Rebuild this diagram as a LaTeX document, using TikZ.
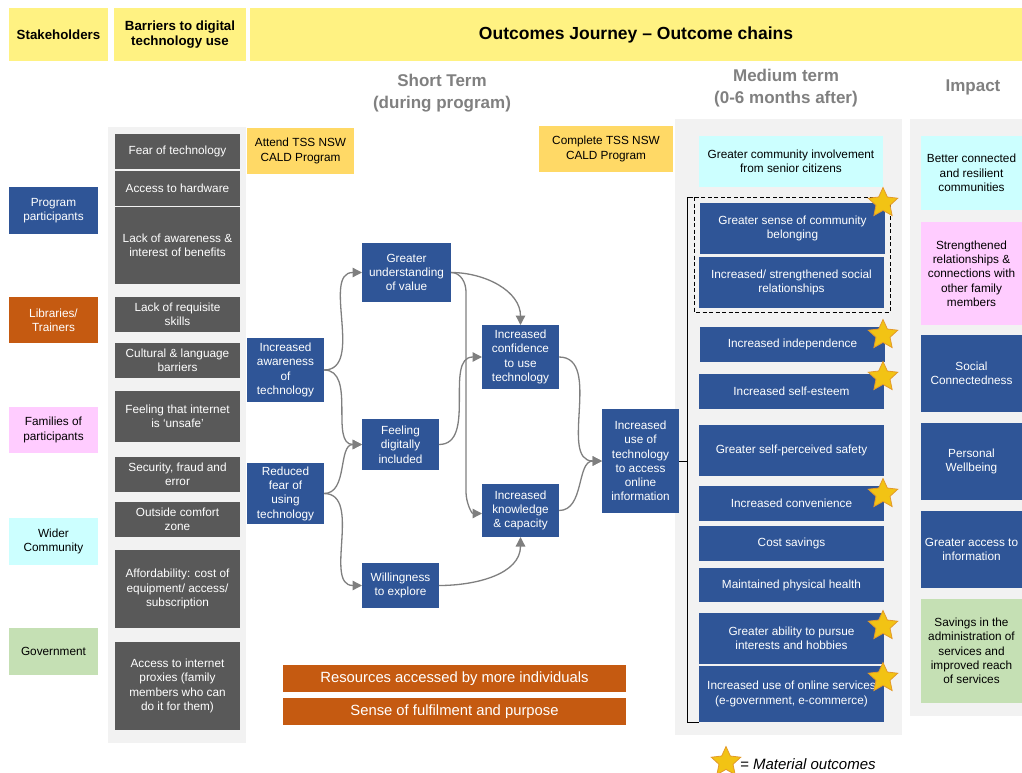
\documentclass[tikz,border=0pt]{standalone}
\usepackage{fontspec}
\setmainfont{Liberation Sans}
\usetikzlibrary{arrows.meta,shapes.geometric}
\definecolor{hdr}{HTML}{FFF282}
\definecolor{prog}{HTML}{FFD966}
\definecolor{cblue}{HTML}{2F5597}
\definecolor{dgray}{HTML}{595959}
\definecolor{corange}{HTML}{C55A11}
\definecolor{cpink}{HTML}{FFCCFF}
\definecolor{ccyan}{HTML}{CCFFFF}
\definecolor{cgreen}{HTML}{C5E0B4}
\definecolor{panel}{HTML}{F2F2F2}
\definecolor{gtext}{HTML}{808080}
\definecolor{arr}{HTML}{7F7F7F}
\definecolor{starfill}{HTML}{F2C314}
\definecolor{stardraw}{HTML}{E39A2A}
\newcommand\mybox[7]{\node[#6, minimum width={(#4)-(#2)}, minimum height={(#5)-(#3)}] (#1) at ({((#2)+(#4))/2},{((#3)+(#5))/2}) {#7};}
\begin{document}
\begin{tikzpicture}[x=1pt,y=-1pt,
  bx/.style={inner sep=0pt, outer sep=0pt, align=center, font=\fontsize{11.8}{14.3}\selectfont},
  bluebox/.style={bx, fill=cblue, text=white},
  graybox/.style={bx, fill=dgray, text=white},
  orbox/.style={bx, fill=corange, text=white},
  pinkbox/.style={bx, fill=cpink, text=black},
  cyanbox/.style={bx, fill=ccyan, text=black},
  greenbox/.style={bx, fill=cgreen, text=black},
  progbox/.style={bx, fill=prog, text=black},
  hdrbox/.style={bx, fill=hdr, text=black, font=\bfseries\fontsize{13.3}{15.5}\selectfont},
  panelbox/.style={inner sep=0pt, outer sep=0pt, fill=panel},
  termtext/.style={align=center, text=gtext, font=\bfseries\fontsize{17}{21.5}\selectfont},
  flow/.style={draw=arr, line width=1.3pt, -{Triangle[length=9.5pt,width=9.5pt]}},
  matstar/.style={star, star points=5, star point ratio=2.1, minimum size=31pt, inner sep=0pt, fill=starfill, draw=stardraw, line width=0.8pt},
  brk/.style={draw=black, line width=0.9pt}
]
\useasboundingbox (0,0) rectangle (1022,773);

% headers
\mybox{hst}{9}{8}{108}{61}{hdrbox}{Stakeholders}
\mybox{hbar}{114}{8}{246}{61}{hdrbox}{Barriers to digital\\technology use}
\mybox{hout}{250}{8}{1022}{61}{hdrbox, font=\bfseries\fontsize{17.5}{20}\selectfont}{Outcomes Journey -- Outcome chains}

% term titles
\node[termtext] (tshort) at (442,93) {Short Term\\(during program)};
\node[termtext] (tmed) at (786,88) {Medium term\\(0-6 months after)};
\node[termtext] (timp) at (973,87) {Impact};

% panels
\mybox{pbar}{108}{127}{246}{743}{panelbox}{}
\mybox{pmed}{675}{119}{902}{735}{panelbox}{}
\mybox{pimp}{910}{119}{1022}{716}{panelbox}{}

% stakeholders
\mybox{pp}{9}{187}{98}{234}{bluebox}{Program\\participants}
\mybox{lib}{9}{297}{98}{343}{orbox}{Libraries/\\Trainers}
\mybox{fam}{9}{407}{98}{453}{pinkbox}{Families of\\participants}
\mybox{wc}{9}{518}{98}{565}{cyanbox}{Wider\\Community}
\mybox{gov}{9}{628}{98}{675}{greenbox}{Government}

% barriers
\mybox{b1}{115}{134}{240}{169}{graybox}{Fear of technology}
\mybox{b2}{115}{171}{240}{206}{graybox}{Access to hardware}
\mybox{b3}{115}{207}{240}{284}{graybox}{Lack of awareness \&\\interest of benefits}
\mybox{b4}{115}{297}{240}{332}{graybox}{Lack of requisite\\skills}
\mybox{b5}{115}{343}{240}{378}{graybox}{Cultural \& language\\barriers}
\mybox{b6}{115}{391}{240}{442}{graybox}{Feeling that internet\\is ‘unsafe’}
\mybox{b7}{115}{457}{240}{492}{graybox}{Security, fraud and\\error}
\mybox{b8}{115}{502}{240}{537}{graybox}{Outside comfort\\zone}
\mybox{b9}{115}{550}{240}{628}{graybox}{Affordability: cost of\\equipment/ access/\\subscription}
\mybox{b10}{115}{642}{240}{730}{graybox}{Access to internet\\proxies (family\\members who can\\do it for them)}

% program boxes
\mybox{att}{247}{128}{354}{174}{progbox}{Attend TSS NSW\\CALD Program}
\mybox{cmp}{539}{126}{673}{172}{progbox}{Complete TSS NSW\\CALD Program}

% short term chain
\mybox{aw}{247}{338}{324}{402}{bluebox}{Increased\\awareness\\of\\technology}
\mybox{rf}{247}{463}{324}{524}{bluebox}{Reduced\\fear of\\using\\technology}
\mybox{gu}{362}{243}{451}{302}{bluebox}{Greater\\understanding\\of value}
\mybox{fdi}{362}{419}{439}{470}{bluebox}{Feeling\\digitally\\included}
\mybox{wil}{362}{563}{439}{608}{bluebox}{Willingness\\to explore}
\mybox{conf}{482}{325}{559}{389}{bluebox}{Increased\\confidence\\to use\\technology}
\mybox{kn}{482}{484}{559}{537}{bluebox}{Increased\\knowledge\\\& capacity}
\mybox{use}{602}{409}{679}{513}{bluebox}{Increased\\use of\\technology\\to access\\online\\information}

% orange bars
\mybox{res}{283}{665}{626}{692}{orbox, font=\fontsize{14.8}{17}\selectfont}{Resources accessed by more individuals}
\mybox{ful}{283}{698}{626}{725}{orbox, font=\fontsize{14.8}{17}\selectfont}{Sense of fulfilment and purpose}

% arrows
\coordinate (gk1) at (466,292);
\coordinate (gk2) at (466,492);
\draw[flow] (aw.east) to[out=0,in=180] (gu.west);
\draw[flow] (aw.east) to[out=0,in=180] (fdi.west);
\draw[flow] (rf.east) to[out=0,in=180] (fdi.west);
\draw[flow] (rf.east) to[out=0,in=180] (wil.west);
\draw[flow] (gu.east) to[out=0,in=90] (conf.north);
\draw[flow] (gu.east) to[out=0,in=90] (gk1) -- (gk2) to[out=270,in=180] ([yshift=-3pt]kn.west);
\draw[flow] (fdi.east) to[out=0,in=180] (conf.west);
\draw[flow] (wil.east) to[out=0,in=270] (kn.south);
\draw[flow] (conf.east) to[out=0,in=180] (use.west);
\draw[flow] (kn.east) to[out=0,in=180] (use.west);

% medium term
\mybox{m0}{699}{136}{883}{187}{cyanbox}{Greater community involvement\\from senior citizens}
\mybox{m1}{700}{203}{885}{254}{bluebox}{Greater sense of community\\belonging}
\mybox{m2}{699}{257}{884}{308}{bluebox}{Increased/ strengthened social\\relationships}
\mybox{m3}{700}{327}{885}{362}{bluebox}{Increased independence}
\mybox{m4}{699}{374}{884}{409}{bluebox}{Increased self-esteem}
\mybox{m5}{699}{425}{884}{476}{bluebox}{Greater self-perceived safety}
\mybox{m6}{699}{486}{884}{521}{bluebox}{Increased convenience}
\mybox{m7}{699}{526}{884}{561}{bluebox}{Cost savings}
\mybox{m8}{699}{568}{884}{602}{bluebox}{Maintained physical health}
\mybox{m9}{699}{613}{884}{664}{bluebox}{Greater ability to pursue\\interests and hobbies}
\mybox{m10}{699}{666}{884}{722}{bluebox}{Increased use of online services\\(e-government, e-commerce)}

% dashed group
\draw[dashed, dash pattern=on 4pt off 2.5pt, line width=0.9pt] (694,197) rectangle (890,312);

% bracket
\coordinate (bt) at (693,197);
\coordinate (btl) at (687,197);
\coordinate (bbl) at (687,722);
\coordinate (bb) at (699,722);
\coordinate (bm) at (687,461);
\draw[brk] (bt) -- (btl) -- (bbl) -- (bb);
\draw[brk] (use.east |- bm) -- (bm);

% impact
\mybox{i1}{921}{136}{1022}{210}{cyanbox}{Better connected\\and resilient\\communities}
\mybox{i2}{921}{222}{1022}{325}{pinkbox}{Strengthened\\relationships \&\\connections with\\other family\\members}
\mybox{i3}{921}{335}{1022}{412}{bluebox}{Social\\Connectedness}
\mybox{i4}{921}{423}{1022}{500}{bluebox}{Personal\\Wellbeing}
\mybox{i5}{921}{511}{1022}{588}{bluebox}{Greater access to\\information}
\mybox{i6}{921}{599}{1022}{703}{greenbox}{Savings in the\\administration of\\services and\\improved reach\\of services}

% stars
\node[matstar] (s1) at (883,203) {};
\node[matstar] (s2) at (883,335) {};
\node[matstar] (s3) at (883,377) {};
\node[matstar] (s4) at (883,494) {};
\node[matstar] (s5) at (883,626) {};
\node[matstar] (s6) at (883,678) {};

% legend
\node[matstar] (ls) at (726,762) {};
\node[anchor=west, inner sep=0pt, font=\itshape\fontsize{15}{17}\selectfont] (lt) at (740,764) {= Material outcomes};
\end{tikzpicture}
\end{document}
